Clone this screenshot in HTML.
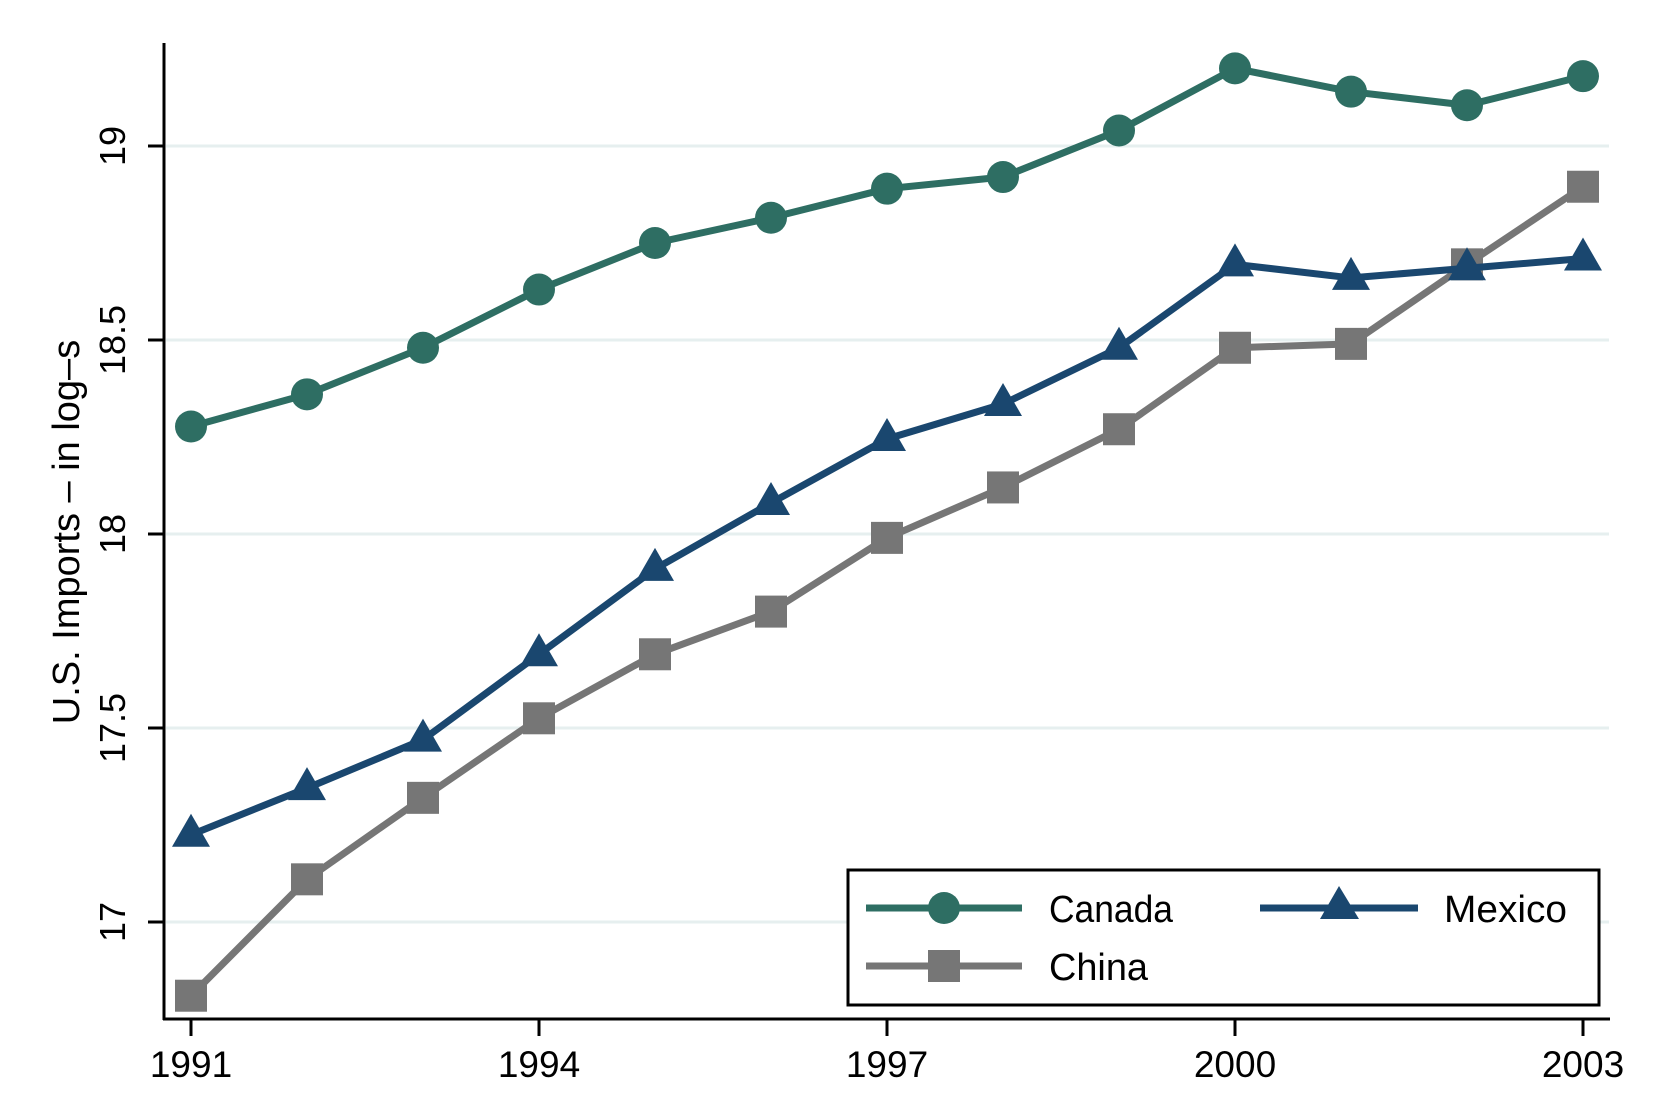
<!DOCTYPE html>
<html><head><meta charset="utf-8"><style>
html,body{margin:0;padding:0;background:#fff;}
svg{display:block;font-family:"Liberation Sans",sans-serif;}
</style></head><body>
<svg id="chart" width="1654" height="1097" viewBox="0 0 1654 1097" xmlns="http://www.w3.org/2000/svg">
<rect width="1654" height="1097" fill="#fff"/>
<g id="grid"></g>
<g id="axes"></g>
<g id="series"></g>
<text transform="translate(79,532) rotate(-90)" text-anchor="middle" font-size="38" fill="#000">U.S. Imports – in log–s</text>
<g>
<rect x="848" y="870" width="751" height="135" fill="#fff" stroke="#000" stroke-width="3"/>
<g>
<line x1="866" y1="908" x2="1022" y2="908" stroke="#2e6e63" stroke-width="7"/>
<ellipse cx="944" cy="908" rx="16" ry="16" fill="#2e6e63"/>
<text x="1049" y="922" font-size="38" textLength="124" lengthAdjust="spacingAndGlyphs">Canada</text>
</g>
<g>
<line x1="1260" y1="908" x2="1418" y2="908" stroke="#1a476f" stroke-width="7"/>
<polygon points="1339,886 1320,919 1359,919" fill="#1a476f"/>
<text x="1444" y="922" font-size="38" textLength="123" lengthAdjust="spacingAndGlyphs">Mexico</text>
</g>
<g>
<line x1="866" y1="966" x2="1022" y2="966" stroke="#767676" stroke-width="7"/>
<rect x="928" y="950" width="32" height="32" fill="#767676"/>
<text x="1049" y="980" font-size="38" textLength="99" lengthAdjust="spacingAndGlyphs">China</text>
</g>
</g>
</svg>
<script>
const years=[1991,1992,1993,1994,1995,1996,1997,1998,1999,2000,2001,2002,2003];
const canada=[18.277,18.36,18.48,18.63,18.75,18.815,18.89,18.92,19.04,19.20,19.14,19.105,19.18];
const mexico=[17.225,17.345,17.47,17.69,17.91,18.08,18.245,18.335,18.48,18.695,18.66,18.685,18.71];
const china=[16.81,17.11,17.32,17.525,17.69,17.80,17.99,18.12,18.27,18.48,18.49,18.695,18.895];
const yTicks=[17,17.5,18,18.5,19];
const xTicks=[1991,1994,1997,2000,2003];

const NS="http://www.w3.org/2000/svg";
const X=v=>191+(v-1991)*(1583-191)/12;
const Y=v=>146+(19-v)*388;
function mk(tag,attrs,parent){const e=document.createElementNS(NS,tag);for(const k in attrs)e.setAttribute(k,attrs[k]);parent.appendChild(e);return e;}
const grid=document.getElementById('grid'),axes=document.getElementById('axes'),ser=document.getElementById('series');
yTicks.forEach(t=>{
 const g=mk('line',{x1:166,x2:1609,y1:Y(t),y2:Y(t),stroke:'#e6efef','stroke-width':3},grid);
 
 
 const tk=mk('line',{x1:148,x2:164,y1:Y(t),y2:Y(t),stroke:'#000','stroke-width':3},axes);
 
 
 const tx=mk('text',{transform:`translate(125,${Y(t)}) rotate(-90)`,'text-anchor':'middle','font-size':36},axes);
 tx.textContent=String(t);
 
 
});
const ya=mk('line',{x1:164,x2:164,y1:43,y2:1020,stroke:'#000','stroke-width':3},axes);


const xa=mk('line',{x1:163,x2:1610,y1:1019,y2:1019,stroke:'#000','stroke-width':3},axes);


xTicks.forEach(t=>{
 const tk=mk('line',{x1:X(t),x2:X(t),y1:1019,y2:1036,stroke:'#000','stroke-width':3},axes);
 
 
 const tx=mk('text',{x:X(t),y:1077,'text-anchor':'middle','font-size':37},axes);
 tx.textContent=String(t);
 
 
});
function drawSeries(vals,color,shape,name){
 const g=mk('g',{},ser);
 
 
 const pl=mk('polyline',{points:vals.map((v,i)=>X(years[i])+','+Y(v)).join(' '),fill:'none',stroke:color,'stroke-width':7,'stroke-linejoin':'round'},g);
 
 
 vals.forEach((v,i)=>{
  const cx=X(years[i]),cy=Y(v);let m;
  if(shape==='circle')m=mk('circle',{cx:cx,cy:cy,r:16,fill:color},g);
  else if(shape==='square')m=mk('rect',{x:cx-16,y:cy-16,width:32,height:32,fill:color},g);
  else m=mk('polygon',{points:`${cx},${cy-21} ${cx-19},${cy+12} ${cx+19},${cy+12}`,fill:color},g);
  
  
 });
}
drawSeries(china,'#767676','square','china');
drawSeries(mexico,'#1a476f','triangle','mexico');
drawSeries(canada,'#2e6e63','circle','canada');
</script>
</body></html>
